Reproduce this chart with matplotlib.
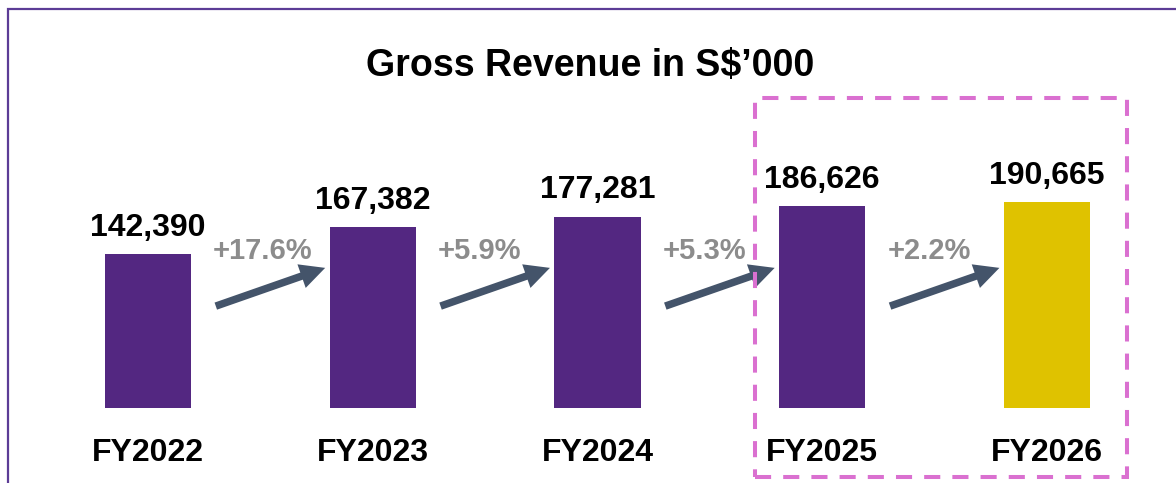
import matplotlib.pyplot as plt
from matplotlib.patches import Rectangle, FancyArrowPatch

plt.rcParams['font.family'] = ['Liberation Sans', 'DejaVu Sans']

years = ['FY2022', 'FY2023', 'FY2024', 'FY2025', 'FY2026']
revenue = [142390, 167382, 177281, 186626, 190665]
growth = ['+17.6%', '+5.9%', '+5.3%', '+2.2%']
bar_colors = ['#532781', '#532781', '#532781', '#532781', '#dfc200']

W, H = 1176, 483
fig = plt.figure(figsize=(W / 100, H / 100), dpi=100)
ax = fig.add_axes([0, 0, 1, 1])

# pixel geometry of the reference: bar 0 centred at x=148, step ~225 px,
# zero line at 75 px from the bottom, ~926 S$'000 per pixel
step = 224.75
per_px = 926
ax.set_xlim(-148 / step, (W - 148) / step)
ax.set_ylim(-75 * per_px, (H - 75) * per_px)
ax.axis('off')

x = range(len(years))
ax.bar(x, revenue, width=0.383, color=bar_colors)

for i, v in enumerate(revenue):
    ax.annotate(f'{v:,}', (i, v), xytext=(0, 13), textcoords='offset points',
                ha='center', va='baseline', fontsize=23, fontweight='bold')
    ax.annotate(years[i], (i, 0), xytext=(0, -38), textcoords='offset points',
                ha='center', va='baseline', fontsize=23, fontweight='bold')

for i, g in enumerate(growth):
    arr = FancyArrowPatch((i + 0.29, 93500), (i + 0.80, 130600),
                          arrowstyle='simple,head_length=1.5,head_width=1.5,tail_width=0.45',
                          mutation_scale=12, color='#44546a', lw=0)
    ax.add_patch(arr)
    ax.text(i + 0.29, 138000, g, ha='left', va='baseline', fontsize=21,
            fontweight='bold', color='#8c8c8c')

ax.text(590 / W, 1 - 76 / H, 'Gross Revenue in S$\u2019000', transform=fig.transFigure,
        ha='center', va='baseline', fontsize=27, fontweight='bold')

# dashed highlight around the forecast years
box = Rectangle((755 / W, 1 - 477 / H), (1127 - 755) / W, (477 - 98) / H,
                transform=fig.transFigure, fill=False, edgecolor='#da70d0',
                lw=2.9, linestyle=(0, (4, 3)))
fig.patches.append(box)

# outer purple frame (right/bottom edges fall outside the image)
frame = Rectangle((8 / W, -0.2), 1.2, 1 - 9 / H + 0.2, transform=fig.transFigure,
                  fill=False, edgecolor='#5c3c96', lw=1.6)
fig.patches.append(frame)

fig.savefig('out.png', dpi=100)
